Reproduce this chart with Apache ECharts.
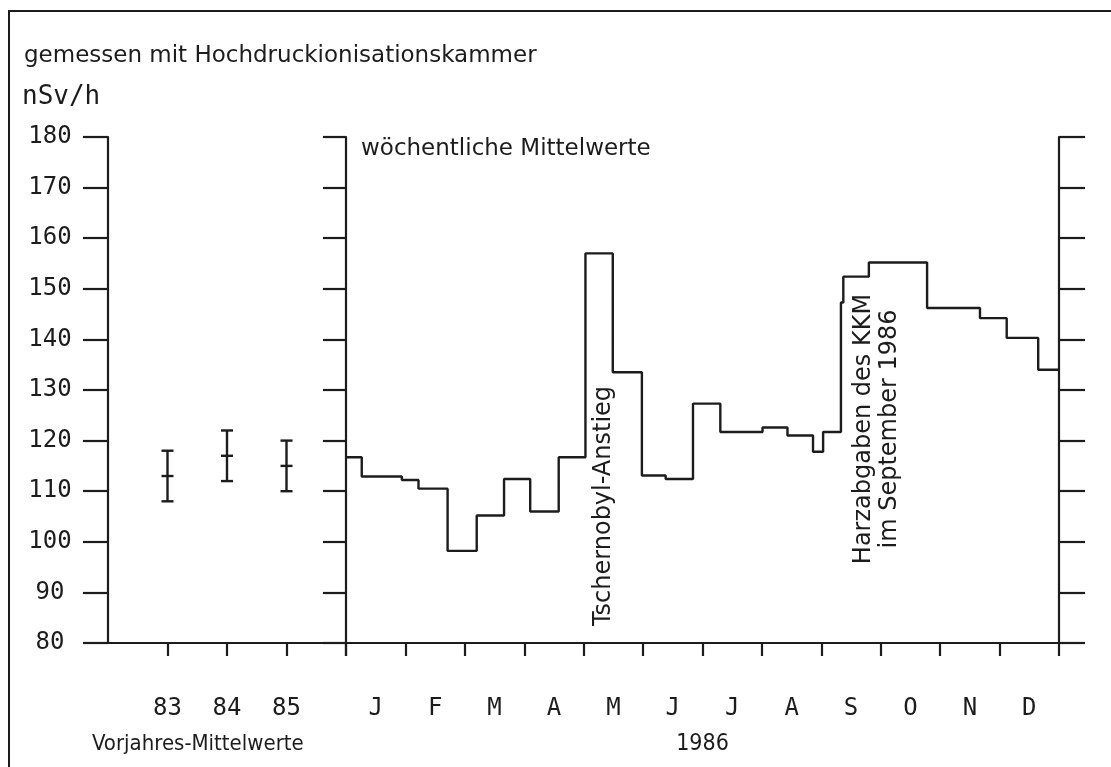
<!DOCTYPE html>
<html>
<head>
<meta charset="utf-8">
<script src="https://cdn.jsdelivr.net/npm/echarts@6/dist/echarts.min.js"></script>
<style>
html,body{margin:0;padding:0;background:#fff;}
#chart{width:1111px;height:767px;}
</style>
</head>
<body>
<div id="chart"></div>
<script>
// ---- data ----
const prevYears = ['83', '84', '85'];
const prevMean = [113, 117, 115];
const prevLow = [108, 112, 110];
const prevHigh = [118, 122, 120];

const months = ['J', 'F', 'M', 'A', 'M', 'J', 'J', 'A', 'S', 'O', 'N', 'D'];
// period boundaries in 1986, in months from 1 January (0) to 31 December (12)
const periodBounds = [0, 0.265, 0.94, 1.22, 1.71, 2.20, 2.66, 3.10, 3.58, 4.03, 4.49, 4.98, 5.38, 5.84, 6.30, 7.01, 7.43, 7.86, 8.03, 8.33, 8.37, 8.80, 9.78, 10.67, 11.12, 11.65, 12];
// mean dose rate (nSv/h) for each period
const periodMeans = [116.7, 112.9, 112.2, 110.5, 98.2, 105.2, 112.4, 106.0, 116.7, 157.0, 133.5, 113.1, 112.4, 127.3, 121.7, 122.6, 121.0, 117.8, 121.7, 147.3, 152.4, 155.2, 146.2, 144.2, 140.3, 134.0];

const yMin = 80, yMax = 180, yStep = 10;

// ---- styles ----
const INK = '#1c1c1c';
const PLOT_FONT = '"DejaVu Sans Mono", "Liberation Mono", monospace';
const SANS_FONT = '"DejaVu Sans", "Liberation Sans", sans-serif';
const NARROW_FONT = '"Liberation Sans Narrow", "DejaVu Sans Condensed", "Liberation Sans", sans-serif';

const stepData = periodBounds.map((b, i) => [b, periodMeans[Math.min(i, periodMeans.length - 1)]]);
const errData = prevYears.map((_, i) => [i + 1, prevLow[i], prevMean[i], prevHigh[i]]);

const chart = echarts.init(document.getElementById('chart'), null, {renderer: 'canvas'});

const lineAxis = {show: true, onZero: false, lineStyle: {color: INK, width: 2.2}};
const tickStyle = {color: INK, width: 2.2};

const option = {
  animation: false,
  backgroundColor: '#fff',
  grid: [
    {left: 108, right: 765, top: 137, bottom: 124},
    {left: 346, right: 52, top: 137, bottom: 124}
  ],
  xAxis: [
    {
      gridIndex: 0, type: 'value', min: 0, max: 4, interval: 1,
      axisLine: lineAxis,
      axisTick: {show: true, length: 13, lineStyle: tickStyle, customValues: prevYears.map((_, i) => i + 1).concat([4])},
      axisLabel: {
        show: true, margin: 54, customValues: prevYears.map((_, i) => i + 1),
        formatter: v => prevYears[Math.round(v) - 1] || '',
        color: INK, fontFamily: PLOT_FONT, fontSize: 24
      },
      splitLine: {show: false}
    },
    {
      gridIndex: 1, type: 'value', min: 0, max: 12, interval: 1,
      axisLine: lineAxis,
      axisTick: {show: true, length: 13, lineStyle: tickStyle},
      axisLabel: {
        show: true, margin: 54, customValues: months.map((_, i) => i + 0.5),
        formatter: v => months[Math.floor(v)] || '',
        color: INK, fontFamily: PLOT_FONT, fontSize: 24
      },
      splitLine: {show: false},
      name: '1986', nameLocation: 'middle', nameGap: 90,
      nameTextStyle: {color: INK, fontFamily: NARROW_FONT, fontSize: 23}
    }
  ],
  yAxis: [
    {
      gridIndex: 0, type: 'value', position: 'left', min: yMin, max: yMax, interval: yStep,
      axisLine: lineAxis,
      axisTick: {show: true, length: 25, lineStyle: tickStyle},
      axisLabel: {show: true, margin: 58, align: 'center', color: INK, fontFamily: PLOT_FONT, fontSize: 24},
      splitLine: {show: false}
    },
    {
      gridIndex: 1, type: 'value', position: 'left', min: yMin, max: yMax, interval: yStep,
      axisLine: lineAxis,
      axisTick: {show: true, length: 23, lineStyle: tickStyle},
      axisLabel: {show: false},
      splitLine: {show: false}
    },
    {
      gridIndex: 1, type: 'value', position: 'right', min: yMin, max: yMax, interval: yStep,
      axisLine: lineAxis,
      axisTick: {show: true, length: 26, lineStyle: tickStyle},
      axisLabel: {show: false},
      splitLine: {show: false}
    }
  ],
  series: [
    {
      type: 'custom', xAxisIndex: 0, yAxisIndex: 0,
      data: errData,
      renderItem: function (params, api) {
        const x = api.value(0);
        const pLo = api.coord([x, api.value(1)]);
        const pMid = api.coord([x, api.value(2)]);
        const pHi = api.coord([x, api.value(3)]);
        const hw = 6;
        const st = {stroke: INK, lineWidth: 2.4};
        return {
          type: 'group',
          children: [
            {type: 'line', shape: {x1: pLo[0], y1: pLo[1], x2: pHi[0], y2: pHi[1]}, style: st},
            {type: 'line', shape: {x1: pLo[0] - hw, y1: pLo[1], x2: pLo[0] + hw, y2: pLo[1]}, style: st},
            {type: 'line', shape: {x1: pHi[0] - hw, y1: pHi[1], x2: pHi[0] + hw, y2: pHi[1]}, style: st},
            {type: 'line', shape: {x1: pMid[0] - hw, y1: pMid[1], x2: pMid[0] + hw, y2: pMid[1]}, style: st}
          ]
        };
      }
    },
    {
      type: 'line', xAxisIndex: 1, yAxisIndex: 1,
      data: stepData, step: 'end', symbol: 'none',
      lineStyle: {color: INK, width: 2.4}
    }
  ],
  graphic: [
    {type: 'rect', z: 100, silent: true, shape: {x: 9, y: 11, width: 1200, height: 900},
     style: {fill: 'rgba(0,0,0,0)', stroke: INK, lineWidth: 2}},
    {type: 'text', z: 100, x: 24, y: 56, style: {text: 'gemessen mit Hochdruckionisationskammer', fill: INK, font: '23px ' + SANS_FONT, textAlign: 'left', textVerticalAlign: 'middle'}},
    {type: 'text', z: 100, x: 22, y: 97, style: {text: 'nSv/h', fill: INK, font: '26px ' + PLOT_FONT, textAlign: 'left', textVerticalAlign: 'middle'}},
    {type: 'text', z: 100, x: 361, y: 149, style: {text: 'wöchentliche Mittelwerte', fill: INK, font: '23px ' + SANS_FONT, textAlign: 'left', textVerticalAlign: 'middle'}},
    {type: 'text', z: 100, x: 604, y: 506, rotation: Math.PI / 2, style: {text: 'Tschernobyl-Anstieg', fill: INK, font: '24px ' + SANS_FONT, textAlign: 'center', textVerticalAlign: 'middle'}},
    {type: 'text', z: 100, x: 877, y: 429, rotation: Math.PI / 2, style: {text: 'Harzabgaben des KKM\nim September 1986', fill: INK, font: '24px ' + SANS_FONT, lineHeight: 26, textAlign: 'center', textVerticalAlign: 'middle'}},
    {type: 'text', z: 100, x: 92, y: 744, style: {text: 'Vorjahres-Mittelwerte', fill: INK, font: '22px ' + NARROW_FONT, textAlign: 'left', textVerticalAlign: 'middle'}}
  ]
};

chart.setOption(option);
</script>
</body>
</html>
